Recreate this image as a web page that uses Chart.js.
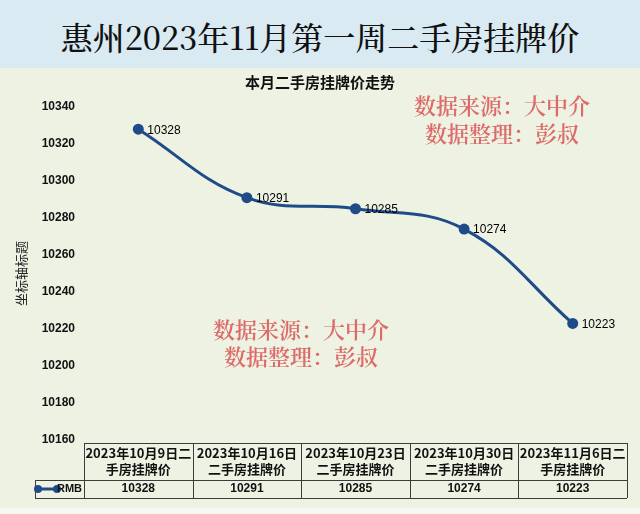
<!DOCTYPE html>
<html>
<head>
<meta charset="utf-8">
<script src="https://cdn.jsdelivr.net/npm/chart.js@4.4.0/dist/chart.umd.min.js"></script>
<style>
  html, body { margin: 0; padding: 0; background: #f5f7f1; }
  #head {
    width: 640px; height: 68px; box-sizing: border-box; padding-top: 4px;
    background: #d9eaf2; color: #111;
    display: flex; align-items: center; justify-content: center;
    font-family: "Noto Serif CJK SC", "Noto Sans CJK SC", sans-serif; font-size: 32px; font-weight: 500;
  }
  #wrap { width: 640px; height: 446px; position: relative; }
</style>
</head>
<body>
<div id="head">惠州2023年11月第一周二手房挂牌价</div>
<div id="wrap"><canvas id="graph"></canvas></div>
<script>
var categories = [
  ["2023年10月9日二", "手房挂牌价"],
  ["2023年10月16日", "二手房挂牌价"],
  ["2023年10月23日", "二手房挂牌价"],
  ["2023年10月30日", "二手房挂牌价"],
  ["2023年11月6日二", "手房挂牌价"],
];
var prices = [10328, 10291, 10285, 10274, 10223];
var yTicks = [10160, 10180, 10200, 10220, 10240, 10260, 10280, 10300, 10320, 10340];
var seriesName = "RMB";
var chartTitle = "本月二手房挂牌价走势";
var axisTitle = "坐标轴标题";
var notes = ["数据来源：大中介", "数据整理：彭叔"];

var blue = "#1f4b89";
var cjk = '"Noto Sans CJK SC", sans-serif';
var latin = '"Liberation Sans", Arial, ' + cjk;
var serif = '"Noto Serif CJK SC", "Noto Sans CJK SC", serif';

// background, title, labels, table and notes
var decor = {
  id: "decor",
  beforeDraw: function (chart) {
    let c = chart.ctx;
    c.save();
    c.fillStyle = "#edf2e3";
    c.fillRect(0, 0, chart.width, 440);
    c.restore();
  },
  afterDatasetsDraw: function (chart) {
    let c = chart.ctx;
    let area = chart.chartArea;
    let xs = chart.scales.x;
    let meta = chart.getDatasetMeta(0);
    c.save();

    // chart title
    c.fillStyle = "#111";
    c.font = "bold 15px " + cjk;
    c.textAlign = "center";
    c.textBaseline = "middle";
    c.fillText(chartTitle, 320, 14);

    // value labels
    c.fillStyle = "#000";
    c.font = "12px " + latin;
    c.textAlign = "left";
    meta.data.forEach((pt, i) => {
      c.fillText(String(prices[i]), pt.x + 9, pt.y + 1);
    });

    // data table
    let colW = (area.right - area.left) / categories.length;
    let top = 375, mid = 412, bottom = 430;
    c.strokeStyle = "#3c3c3c";
    c.lineWidth = 1;
    c.beginPath();
    c.moveTo(area.left, top + 0.5); c.lineTo(area.right, top + 0.5);
    c.moveTo(35, mid + 0.5); c.lineTo(area.right, mid + 0.5);
    c.moveTo(35, bottom + 0.5); c.lineTo(area.right, bottom + 0.5);
    c.moveTo(35.5, mid); c.lineTo(35.5, bottom);
    for (let i = 0; i <= categories.length; i++) {
      let x = Math.round(area.left + i * colW) + 0.5;
      c.moveTo(x, top); c.lineTo(x, bottom);
    }
    c.stroke();

    c.fillStyle = "#111";
    c.textAlign = "center";
    categories.forEach((lines, i) => {
      let cx = xs.getPixelForValue(i);
      c.font = "bold 13px " + cjk;
      c.fillText(lines[0], cx, 385);
      c.fillText(lines[1], cx, 401);
      c.font = "bold 12px " + latin;
      c.fillText(String(prices[i]), cx, 421);
    });

    // legend key in the table
    c.strokeStyle = blue;
    c.lineWidth = 3;
    c.beginPath();
    c.moveTo(38, 421); c.lineTo(57, 421);
    c.stroke();
    c.fillStyle = blue;
    [38, 57].forEach((x) => {
      c.beginPath(); c.arc(x, 421, 4, 0, Math.PI * 2); c.fill();
    });
    c.fillStyle = "#111";
    c.font = "bold 11px " + latin;
    c.textAlign = "right";
    c.fillText(seriesName, 82, 421);

    // notes
    c.fillStyle = "#dd6a68";
    c.font = "600 22px " + serif;
    c.textAlign = "center";
    c.fillText(notes[0], 502, 38);
    c.fillText(notes[1], 502, 66);
    c.fillText(notes[0], 301, 262);
    c.fillText(notes[1], 301, 289);
    c.restore();
  },
};

var ctx = document.getElementById("graph").getContext("2d");
var priceChart = new Chart(ctx, {
  type: "line",
  data: {
    labels: categories,
    datasets: [
      {
        label: seriesName,
        data: prices,
        borderColor: blue,
        backgroundColor: blue,
        borderWidth: 3,
        pointRadius: 5.5,
        pointBackgroundColor: blue,
        pointBorderWidth: 0,
        tension: 0.4,
      },
    ],
  },
  options: {
    responsive: true,
    maintainAspectRatio: false,
    animation: false,
    layout: { padding: { top: 39, bottom: 74, left: 0, right: 13 } },
    plugins: {
      legend: { display: false },
      tooltip: { enabled: false },
    },
    scales: {
      x: { display: false, offset: true },
      y: {
        min: 10160,
        max: 10340,
        afterBuildTicks: (s) => { s.ticks = yTicks.map((v) => ({ value: v })); },
        afterFit: (s) => { s.width = 84; },
        grid: { display: false, drawTicks: false },
        border: { display: false },
        ticks: {
          padding: 9,
          color: "#111",
          font: { family: latin, size: 12, weight: "bold" },
          callback: (v) => String(v),
        },
        title: {
          display: true,
          text: axisTitle,
          color: "#222",
          font: { family: cjk, size: 13 },
          padding: { top: 13, bottom: 0 },
        },
      },
    },
  },
  plugins: [decor],
});
</script>
</body>
</html>
